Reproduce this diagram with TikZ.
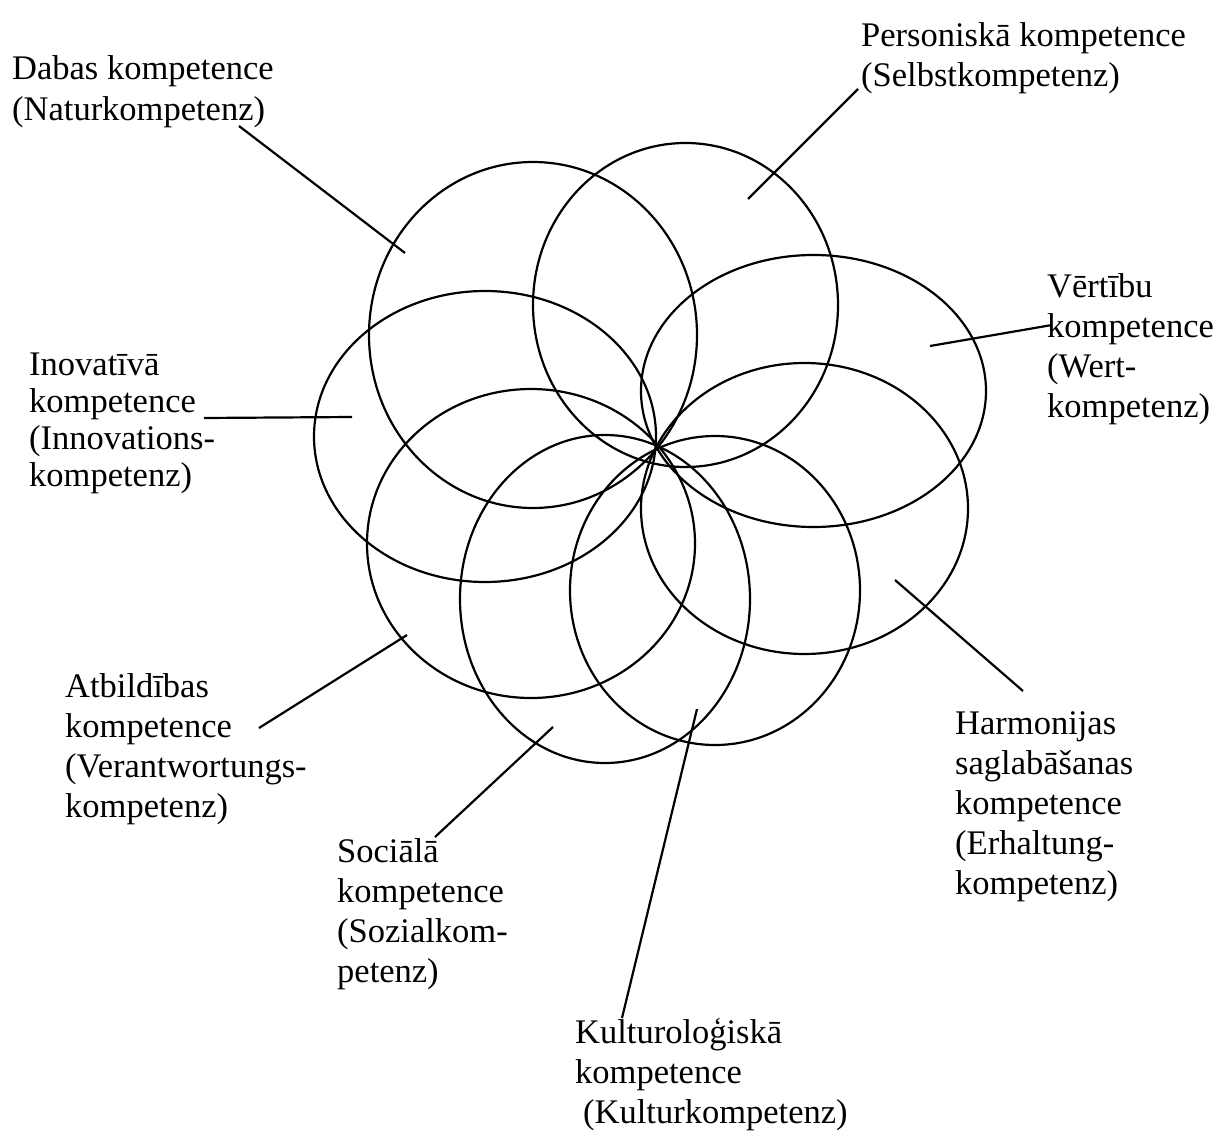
\documentclass[tikz,border=0pt]{standalone}
\usepackage{fontspec}
\setmainfont{Liberation Serif}
\newcommand\lblines[1]{\begin{tabular}[t]{@{}l@{}}#1\end{tabular}}
\begin{document}
\begin{tikzpicture}[x=1pt,y=-1pt,
  ring/.style={line width=2.2pt},
  leader/.style={line width=2.2pt},
  lbl/.style={anchor=base west, inner sep=0pt, font=\fontsize{34.5}{40}\selectfont}]
\useasboundingbox (0,0) rectangle (1216,1132);
\fill[white] (0,0) rectangle (1216,1132);
% ellipses
\draw[ring] (533,335)   ellipse [x radius=164pt,   y radius=173pt];   % Dabas
\draw[ring] (685.5,305) ellipse [x radius=152.5pt, y radius=162pt];   % Personiska
\draw[ring] (813.5,391) ellipse [x radius=172.5pt, y radius=136pt];   % Vertibu
\draw[ring] (804.5,508.5) ellipse [x radius=163.5pt, y radius=145.5pt]; % Harmonijas
\draw[ring] (715,590.5) ellipse [x radius=145pt,   y radius=154.5pt]; % Kulturologiska
\draw[ring] (605,599)   ellipse [x radius=145pt,   y radius=164pt];   % Sociala
\draw[ring] (531,543.5) ellipse [x radius=164pt,   y radius=154.5pt]; % Atbildibas
\draw[ring] (485,436.5) ellipse [x radius=171pt,   y radius=145.5pt]; % Inovativa
% labels
\node[lbl] (dabas) at (12,80) {\lblines{Dabas kompetence\\(Naturkompetenz)}};
\node[lbl] (pers) at (861,47) {\lblines{Personiskā kompetence\\(Selbstkompetenz)}};
\node[lbl] (vert) at (1047,297) {\lblines{Vērtību\\kompetence\\(Wert-\\kompetenz)}};
\node[lbl] (harm) at (955,734) {\lblines{Harmonijas\\saglabāšanas\\kompetence\\(Erhaltung-\\kompetenz)}};
\node[lbl] (kult) at (575,1043) {\lblines{Kulturoloģiskā\\kompetence\\\hspace{8pt}(Kulturkompetenz)}};
\node[lbl] (soc) at (337,862) {\lblines{Sociālā\\kompetence\\(Sozialkom-\\petenz)}};
\node[lbl] (atb) at (65,697) {\lblines{Atbildības\\kompetence\\(Verantwortungs-\\kompetenz)}};
\node[lbl,font=\fontsize{34.5}{37}\selectfont] (inov) at (29,375) {\lblines{Inovatīvā\\kompetence\\(Innovations-\\kompetenz)}};
% leader ends
\coordinate (dabasT) at (239,126);  \coordinate (dabasE) at (405,253);
\coordinate (persT)  at (858,89);   \coordinate (persE)  at (748,199);
\coordinate (vertT)  at (1052,325); \coordinate (vertE)  at (930,346);
\coordinate (harmT)  at (1023,691); \coordinate (harmE)  at (895,580);
\coordinate (kultT)  at (622,1018); \coordinate (kultE)  at (697,709);
\coordinate (socT)   at (435,837);  \coordinate (socE)   at (553,727);
\coordinate (atbT)   at (259,728);  \coordinate (atbE)   at (407,635);
\coordinate (inovT)  at (204,418);  \coordinate (inovE)  at (352,417);
\draw[leader] (dabasT) -- (dabasE);
\draw[leader] (persT) -- (persE);
\draw[leader] (vertT) -- (vertE);
\draw[leader] (harmT) -- (harmE);
\draw[leader] (kultT) -- (kultE);
\draw[leader] (socT) -- (socE);
\draw[leader] (atbT) -- (atbE);
\draw[leader] (inovT) -- (inovE);
\end{tikzpicture}
\end{document}
